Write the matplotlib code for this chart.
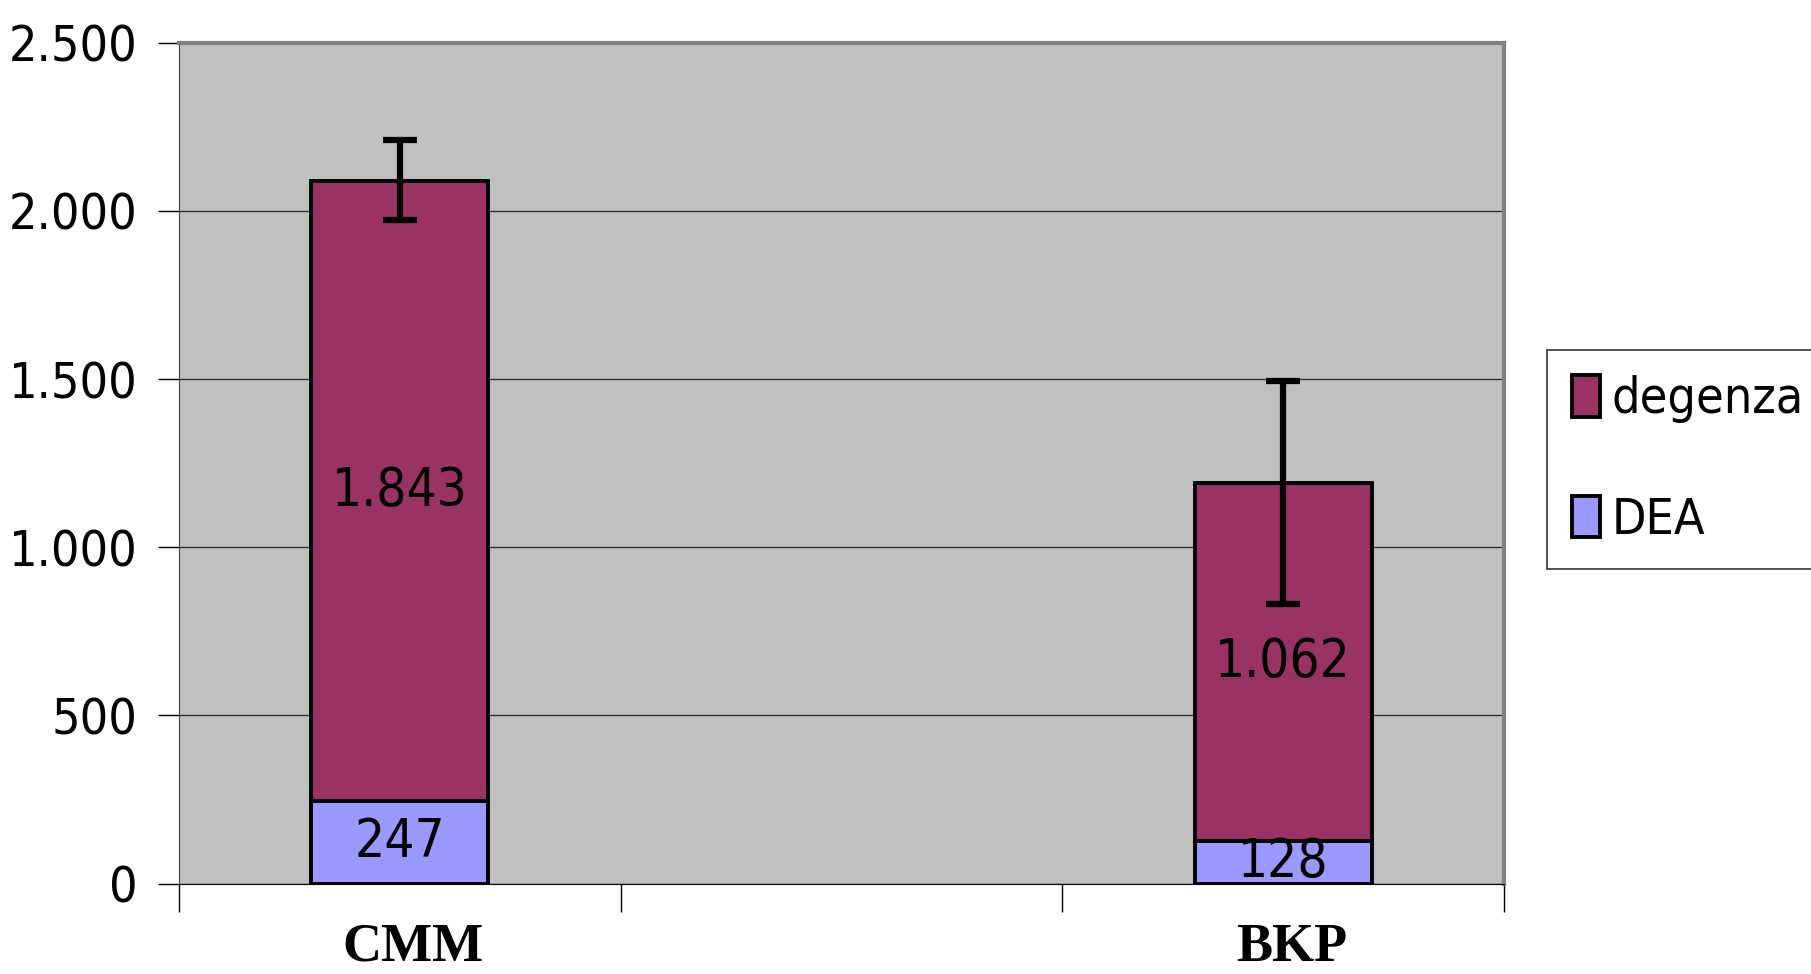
import numpy as np
import matplotlib.pyplot as plt
from matplotlib import font_manager
from matplotlib.ticker import FuncFormatter, FixedLocator

# data
categories = ['CMM', '', 'BKP']
dea = [247, 0, 128]
degenza = [1843, 0, 1062]
err_low = [117, 0, 360]
err_high = [121, 0, 305]

# pick a narrow sans if one is there
fonts = font_manager.fontManager.ttflist
names = {f.name for f in fonts}
if 'Liberation Sans Narrow' in names:
    fam, stretch, fs = 'Liberation Sans Narrow', 'normal', 46
elif any(str(f.stretch) != 'normal' and f.name == 'DejaVu Sans' for f in fonts):
    fam, stretch, fs = 'DejaVu Sans', 'condensed', 38
else:
    fam, stretch, fs = 'Liberation Sans', 'normal', 38

plt.rcParams['font.family'] = [fam, 'DejaVu Sans']
plt.rcParams['font.stretch'] = stretch

fig = plt.figure(figsize=(18.11, 9.74), dpi=100)
ax = fig.add_axes([0.0988, 0.0928, 0.7317, 0.8634])
ax.set_facecolor('#C0C0C0')

x = np.arange(len(categories))
idx = [0, 2]
xs = x[idx]
d1 = np.array(dea)[idx]
d2 = np.array(degenza)[idx]

b1 = ax.bar(xs, d1, width=0.4, color='#9999FF', edgecolor='black', linewidth=2.8, label='DEA', zorder=3)
b2 = ax.bar(xs, d2, width=0.4, bottom=d1, color='#993366', edgecolor='black', linewidth=2.8, label='degenza', zorder=3)

tot = d1 + d2
ax.errorbar(xs, tot, yerr=[np.array(err_low)[idx], np.array(err_high)[idx]], fmt='none',
            ecolor='black', elinewidth=4.5, capsize=12, capthick=4.5, zorder=4)

fmt = lambda v: f"{int(v):,}".replace(',', '.')
for xi, a, b in zip(xs, d1, d2):
    ax.text(xi, a / 2, fmt(a), ha='center', va='center', fontsize=fs, zorder=5)
    ax.text(xi, a + b / 2, fmt(b), ha='center', va='center', fontsize=fs, zorder=5)

ax.set_ylim(0, 2500)
ax.set_xlim(-0.5, 2.5)
ax.set_yticks(np.arange(0, 2501, 500))
ax.yaxis.set_major_formatter(FuncFormatter(lambda v, p: fmt(v)))
ax.tick_params(axis='y', labelsize=fs - 2, length=15, width=1, pad=15, direction='out')
ax.yaxis.grid(True, color='#333333', linewidth=1, zorder=1)

ax.xaxis.set_major_locator(FixedLocator([-0.5, 0.5, 1.5, 2.5]))
ax.set_xticklabels([])
ax.tick_params(axis='x', which='major', length=20, width=1, direction='out')
ax.set_xticks([0.03, 1, 2.02], minor=True)
ax.set_xticklabels(categories, minor=True, family='Liberation Serif', fontweight='bold', fontsize=39)
ax.tick_params(axis='x', which='minor', length=0, pad=28)

ax.spines['top'].set_color('#808080')
ax.spines['top'].set_linewidth(3)
ax.spines['right'].set_color('#808080')
ax.spines['right'].set_linewidth(3)
ax.spines['left'].set_color('#404040')
ax.spines['bottom'].set_color('black')

leg = fig.legend(handles=[b2, b1], labels=['degenza', 'DEA'], loc='upper left',
                 bbox_to_anchor=(1547 / 1811, 1 - 350 / 974), fontsize=fs - 2,
                 frameon=True, fancybox=False, handlelength=0.55, handleheight=0.9,
                 handletextpad=0.25, labelspacing=1.45, borderpad=0.5, borderaxespad=0)
leg.get_frame().set_edgecolor('black')
leg.get_frame().set_linewidth(1.2)

fig.savefig('out.png', dpi=100)
